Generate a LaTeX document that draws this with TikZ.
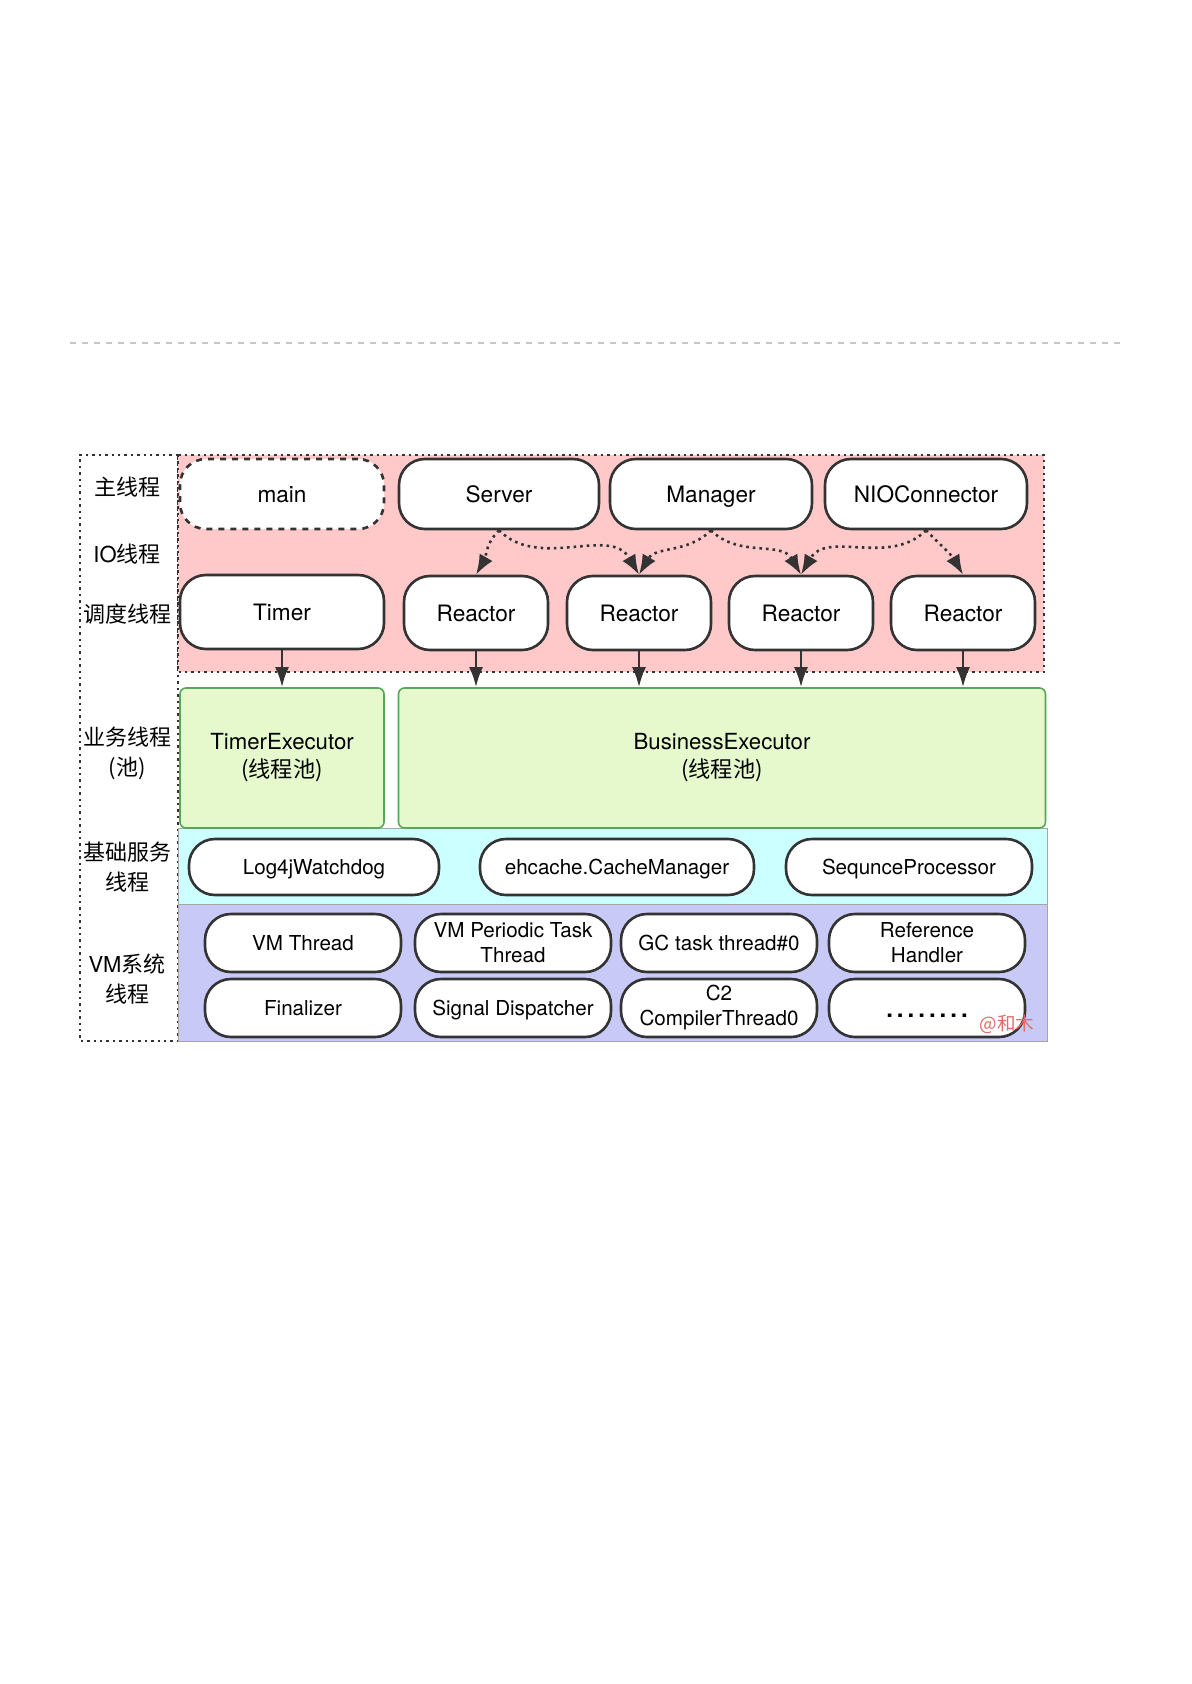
\documentclass[tikz,border=0pt]{standalone}
\usepackage{fontspec}
\setmainfont{TeX Gyre Heros}
\newfontfamily\cjk{Noto Sans CJK SC}
\usetikzlibrary{arrows.meta}
\definecolor{iopink}{HTML}{FFC9C9}
\definecolor{poolgreen}{HTML}{E5F9CD}
\definecolor{basecyan}{HTML}{CCFFFF}
\definecolor{vmpurple}{HTML}{C9C9F7}
\definecolor{linegray}{HTML}{333333}
\definecolor{wmred}{HTML}{E46A6A}
\begin{document}
\begin{tikzpicture}[x=0.5pt, y=-0.5pt,
  thread/.style={draw=linegray, line width=1.3pt, fill=white, rounded corners=13pt,
    inner sep=0pt, align=center, font=\fontsize{11.3}{13}\selectfont},
  small thread/.style={thread, font=\fontsize{10.3}{12.5}\selectfont},
  oneline/.style={text height=8pt, text depth=0pt},
  small oneline/.style={text height=7.4pt, text depth=0pt},
  pool/.style={draw=gray!70!green, line width=0.8pt, fill=poolgreen, rounded corners=3pt,
    inner sep=0pt, align=center, font=\fontsize{11.1}{14}\selectfont},
  rowname/.style={align=center, font=\cjk\fontsize{11}{15}\selectfont},
  flow/.style={-{Latex[length=10pt,width=7pt]}, line width=1.3pt, draw=linegray},
  dispatch/.style={-{Latex[length=10pt,width=7.5pt]}, line width=1.3pt, draw=linegray, dotted},
  watermark/.style={text=wmred, font=\cjk\fontsize{9.3}{10}\selectfont}]
\useasboundingbox (0,0) rectangle (1191,1684);
\draw[gray!45, line width=1pt, dashed] (70,343) -- (1122,343);
% layers
\draw[linegray, line width=1.2pt, dotted] (178,455) -- (80,455) -- (80,1041) -- (178,1041) -- cycle;
\draw[fill=iopink, draw=linegray, line width=1.2pt, dotted] (178,455) rectangle (1044,672);
\draw[fill=basecyan, draw=gray!70] (178,828) rectangle (1047,904);
\draw[fill=vmpurple, draw=gray!70] (178,904) rectangle (1047,1041);
% row names
\node[rowname] (lmain)  at (127,487) {主线程};
\node[rowname] (lio)    at (127,554) {\textrm{IO}线程};
\node[rowname] (lsched) at (127,614) {调度线程};
\node[rowname] (lbiz)   at (127,753) {业务线程\\(池)};
\node[rowname] (lbase)  at (127,867) {基础服务\\线程};
\node[rowname] (lvm)    at (127,979) {\textrm{VM}系统\\线程};
% nodes
\node[thread, oneline, dashed, minimum width=102pt, minimum height=35pt] (main) at (282,494) {main};
\node[thread, oneline, minimum width=100pt, minimum height=35pt] (server)  at (499,494) {Server};
\node[thread, oneline, minimum width=101pt, minimum height=35pt] (manager) at (711,494) {Manager};
\node[thread, oneline, minimum width=101pt, minimum height=35pt] (nio)     at (926,494) {NIOConnector};
\node[thread, oneline, minimum width=102pt, minimum height=37pt] (timer) at (282,612) {Timer};
  \node[thread, oneline, minimum width=72pt, minimum height=37pt] (r1) at (476,613) {Reactor};
  \node[thread, oneline, minimum width=72pt, minimum height=37pt] (r2) at (639,613) {Reactor};
  \node[thread, oneline, minimum width=72pt, minimum height=37pt] (r3) at (801,613) {Reactor};
  \node[thread, oneline, minimum width=72pt, minimum height=37pt] (r4) at (963,613) {Reactor};
\node[pool, minimum width=102pt, minimum height=70pt] (texec) at (282,758) {TimerExecutor\\{\cjk (线程池)}};
\node[pool, minimum width=323.5pt, minimum height=70pt] (bexec) at (722,758) {BusinessExecutor\\{\cjk (线程池)}};
  \node[small thread, small oneline, minimum width=125pt, minimum height=28pt] (log4j)   at (314,867) {Log4jWatchdog};
  \node[small thread, small oneline, minimum width=137pt, minimum height=28pt] (ehcache) at (617,867) {ehcache.CacheManager};
  \node[small thread, small oneline, minimum width=123pt, minimum height=28pt] (seq)     at (909,867) {SequnceProcessor};
\node[small thread, small oneline, minimum width=98pt, minimum height=29pt] (vmthread) at (303,943) {VM Thread};
\node[small thread, minimum width=98pt, minimum height=29pt] (periodic) at (513,943) {VM Periodic Task\\Thread};
\node[small thread, small oneline, minimum width=98pt, minimum height=29pt] (gc)       at (719,943) {GC task thread\#0};
\node[small thread, minimum width=98pt, minimum height=29pt] (refh)     at (927,943) {Reference\\Handler};
\node[small thread, small oneline, minimum width=98pt, minimum height=29pt] (final)    at (303,1008) {Finalizer};
\node[small thread, small oneline, minimum width=98pt, minimum height=29pt] (signal)   at (513,1008) {Signal Dispatcher};
\node[small thread, minimum width=98pt, minimum height=29pt] (c2)       at (719,1008) {C2\\CompilerThread0};
\node[small thread, minimum width=98pt, minimum height=29pt] (more)     at (927,1008)
  {\raisebox{-1.7ex}{\fontsize{12}{12}\selectfont\bfseries .\,.\,.\,.\,.\,.\,.\,.}};
\node[watermark] (wm) at (1007,1024) {@和木};
% arrows
\draw[dispatch] (server.south) to[out=-135, in=60] (r1.north);
\draw[dispatch] (server.south) to[out=-45, in=120] (r2.north);
\draw[dispatch] (manager.south) to[out=-135, in=60] (r2.north);
\draw[dispatch] (manager.south) to[out=-45, in=120] (r3.north);
\draw[dispatch] (nio.south) to[out=-135, in=60] (r3.north);
\draw[dispatch] (nio.south) to[out=-45, in=120] (r4.north);

\draw[flow] (timer) -- (texec);
\draw[flow] (r1) -- (r1 |- bexec.north);
\draw[flow] (r2) -- (r2 |- bexec.north);
\draw[flow] (r3) -- (r3 |- bexec.north);
\draw[flow] (r4) -- (r4 |- bexec.north);
\end{tikzpicture}
\end{document}
